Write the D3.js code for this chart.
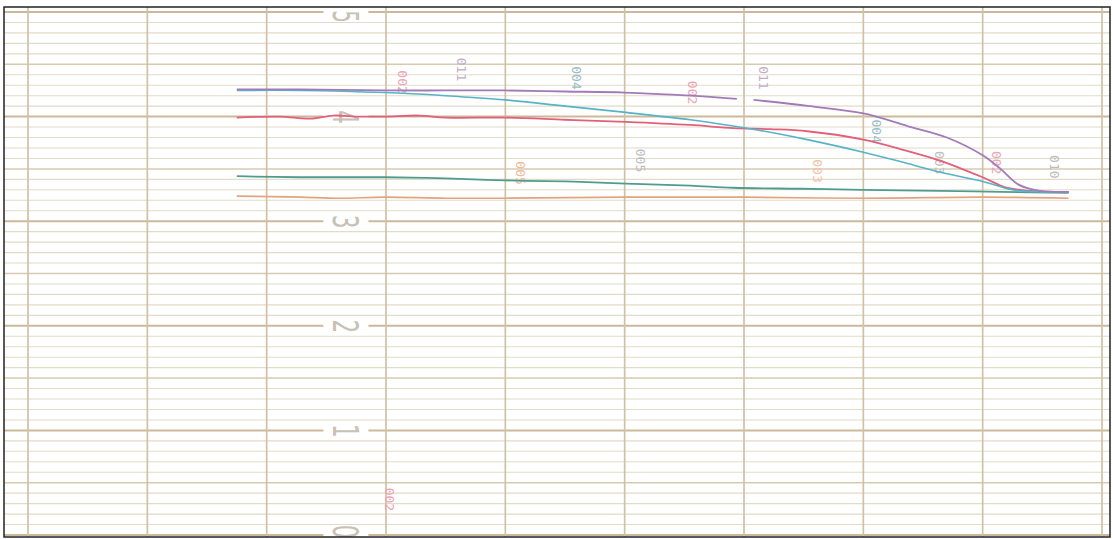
<!DOCTYPE html>
<html>
<head>
<meta charset="utf-8">
<script src="https://cdn.jsdelivr.net/npm/d3@7"></script>
<style>
  body { margin: 0; background: #ffffff; }
  svg { display: block; }
</style>
</head>
<body>
<svg></svg>
<script>
// chart divisions along x (0..9), pen value along y (0..5)
let yTicks = [0, 1, 2, 3, 4, 5]

let purpleX = [1.75, 2.28, 2.99, 3.50, 4.00, 4.50, 5.00, 5.55, 5.94, 6.01, 6.08, 6.55, 7.00, 7.37, 7.70, 8.00, 8.15, 8.30, 8.48, 8.72]
let purpleY = [4.26, 4.26, 4.25, 4.25, 4.25, 4.24, 4.23, 4.20, 4.17, null, 4.16, 4.10, 4.03, 3.91, 3.80, 3.63, 3.50, 3.35, 3.29, 3.28]

let cyanX = [1.75, 2.28, 2.99, 3.50, 4.00, 4.50, 5.01, 5.55, 5.91, 6.22, 6.53, 7.00, 7.31, 7.64, 8.00, 8.25, 8.48, 8.72]
let cyanY = [4.25, 4.25, 4.23, 4.20, 4.16, 4.10, 4.04, 3.97, 3.91, 3.85, 3.78, 3.66, 3.57, 3.47, 3.38, 3.30, 3.28, 3.28]

let redX = [1.75, 2.11, 2.36, 2.56, 2.78, 2.99, 3.28, 3.50, 4.00, 4.50, 5.01, 5.55, 5.91, 6.22, 6.53, 7.00, 7.31, 7.64, 8.00, 8.20, 8.40, 8.72]
let redY = [3.99, 4.00, 3.98, 4.01, 4.00, 4.00, 4.01, 3.99, 3.99, 3.97, 3.95, 3.92, 3.89, 3.88, 3.86, 3.78, 3.69, 3.58, 3.42, 3.32, 3.29, 3.28]

let greenX = [1.75, 2.28, 2.99, 3.50, 4.00, 4.50, 5.01, 5.55, 5.91, 6.47, 7.00, 7.64, 8.15, 8.72]
let greenY = [3.43, 3.42, 3.42, 3.41, 3.39, 3.38, 3.36, 3.34, 3.32, 3.31, 3.30, 3.29, 3.28, 3.27]

let orangeX = [1.75, 2.28, 2.60, 2.99, 3.50, 4.00, 5.01, 5.55, 5.99, 7.00, 8.00, 8.72]
let orangeY = [3.24, 3.23, 3.22, 3.23, 3.22, 3.22, 3.23, 3.23, 3.23, 3.22, 3.23, 3.22]

// small pen annotations written sideways on the strip
let noteX = [3.14, 3.63, 4.60, 5.57, 6.16, 7.11, 6.62, 7.64, 8.12, 8.60, 4.13, 5.13, 3.03]
let noteY = [4.33, 4.45, 4.37, 4.23, 4.37, 3.86, 3.48, 3.56, 3.56, 3.52, 3.46, 3.58, 0.34]
let noteText = ['002', '011', '004', '002', '011', '004', '003', '003', '002', '010', '005', '005', '002']
let noteColor = ['#e9a6b5', '#c0aec8', '#98bcc8', '#e9a6b5', '#c0aec8', '#98bcc8', '#f0c4a6', '#bdbdbd', '#e9a6b5', '#bdbdbd', '#f0bc96', '#bdbdbd', '#e9a6b5']

let width = 1113
let height = 539

let svg = d3.select('svg')
    .attr('width', width)
    .attr('height', height)

let xScale = d3.scaleLinear().domain([0, 9]).range([28, 1102])
let yScale = d3.scaleLinear().domain([0, 5]).range([535, 12])

// horizontal rulings, every 0.1
let hLines = d3.range(0, 51).map(i => i / 10)
svg.append('g')
    .selectAll('line')
    .data(hLines)
    .enter()
    .append('line')
    .attr('x1', 4)
    .attr('x2', 1110)
    .attr('y1', d => yScale(d))
    .attr('y2', d => yScale(d))
    .attr('stroke', (d, i) => i % 10 == 0 ? '#cbb99a' : (i % 5 == 0 ? '#d8cab0' : '#e4dac8'))
    .attr('stroke-width', (d, i) => i % 10 == 0 ? 2 : (i % 5 == 0 ? 1.5 : 1.1))

// vertical rulings
svg.append('g')
    .selectAll('line')
    .data(d3.range(0, 10))
    .enter()
    .append('line')
    .attr('x1', d => xScale(d))
    .attr('x2', d => xScale(d))
    .attr('y1', 7)
    .attr('y2', 537)
    .attr('stroke', '#d0c1a5')
    .attr('stroke-width', 1.7)

// value scale printed on the strip (tall, narrow digits turned sideways)
let yAxis = d3.axisRight(yScale).tickValues(yTicks).tickSize(0).tickFormat(d3.format('d'))
let axisG = svg.append('g')
    .attr('transform', `translate(${xScale(2.66)}, 0)`)
    .call(yAxis)
axisG.select('.domain').remove()
axisG.selectAll('.tick').insert('rect', 'text')
    .attr('x', -22)
    .attr('y', -5)
    .attr('width', 45)
    .attr('height', 10)
    .attr('fill', '#ffffff')
axisG.selectAll('.tick text')
    .attr('x', 0)
    .attr('dy', 0)
    .attr('text-anchor', 'middle')
    .attr('dominant-baseline', 'central')
    .attr('transform', d => d == 0 ? 'translate(0,-4) rotate(90) scale(0.6,1)' : (d == 5 ? 'translate(0,4) rotate(90) scale(0.55,1)' : 'rotate(90) scale(0.6,1)'))
    .attr('fill', '#c8c1b5')
    .style('font-family', 'DejaVu Sans')
    .style('font-size', '36px')

let notes = noteText.map((t, i) => ({x: noteX[i], y: noteY[i], t: t, c: noteColor[i]}))
svg.append('g')
    .selectAll('text')
    .data(notes)
    .enter()
    .append('text')
    .attr('transform', d => `translate(${xScale(d.x)}, ${yScale(d.y)}) rotate(90)`)
    .attr('text-anchor', 'middle')
    .attr('dominant-baseline', 'central')
    .attr('fill', d => d.c)
    .style('font-family', 'DejaVu Sans Mono')
    .style('font-size', '13px')
    .text(d => d.t)

// pen traces
let series = [
    {x: orangeX, y: orangeY, color: '#e2a47e', w: 1.6},
    {x: greenX, y: greenY, color: '#4f9c8e', w: 1.8},
    {x: redX, y: redY, color: '#e2607a', w: 1.8},
    {x: cyanX, y: cyanY, color: '#55b4c8', w: 1.6},
    {x: purpleX, y: purpleY, color: '#a27ab8', w: 1.8}
]

let line = d3.line()
    .defined(d => d[1] != null)
    .x(d => xScale(d[0]))
    .y(d => yScale(d[1]))
    .curve(d3.curveCatmullRom.alpha(0.5))

svg.append('g')
    .selectAll('path')
    .data(series)
    .enter()
    .append('path')
    .attr('d', s => line(s.x.map((v, i) => [v, s.y[i]])))
    .attr('fill', 'none')
    .attr('stroke', s => s.color)
    .attr('stroke-width', s => s.w)

// frame
svg.append('rect')
    .attr('x', 4)
    .attr('y', 7)
    .attr('width', 1106)
    .attr('height', 530)
    .attr('fill', 'none')
    .attr('stroke', '#222222')
    .attr('stroke-width', 1.5)
</script>
</body>
</html>
